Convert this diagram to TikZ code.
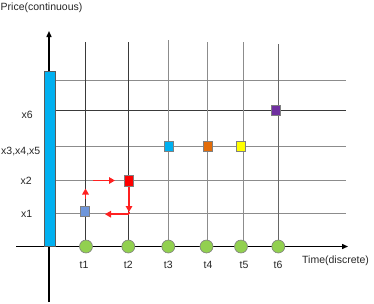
\documentclass[tikz,border=0pt]{standalone}
\usepackage{fontspec}
\setmainfont{Liberation Sans}
\usetikzlibrary{arrows.meta}
\definecolor{gridgray}{HTML}{8C8C8C}
\definecolor{griddark}{HTML}{3A3A3A}
\definecolor{barblue}{HTML}{00B0F0}
\definecolor{dotgreen}{HTML}{92D050}
\definecolor{sqblue}{HTML}{6F96DA}
\definecolor{sqred}{HTML}{FF0000}
\definecolor{sqorange}{HTML}{E36C09}
\definecolor{sqyellow}{HTML}{FFFF00}
\definecolor{sqpurple}{HTML}{7030A0}
\definecolor{arrred}{HTML}{FF2020}
\tikzset{
  lbl/.style={inner sep=0pt, font=\fontsize{10.5}{12}\selectfont, text=black!85},
  gridline/.style={draw=gridgray, line width=0.9pt},
  darkline/.style={draw=griddark, line width=0.9pt},
  axis/.style={draw=black, line width=1.4pt, -{Triangle[length=6pt,width=5pt]}},
  dot/.style={circle, fill=dotgreen, draw=gray, line width=0.6pt, minimum size=13pt, inner sep=0pt},
  sq/.style={rectangle, draw=gray, line width=0.6pt, minimum width=9pt, minimum height=10.5pt, inner sep=0pt},
  redarr/.style={draw=arrred, line width=1.8pt, -{Triangle[length=6pt,width=6.5pt]}}
}
\begin{document}
\begin{tikzpicture}[x=1pt,y=-1pt]
\useasboundingbox (0,0) rectangle (374,303);
% horizontal grid lines
\coordinate (h1l) at (49,80);  \coordinate (h1r) at (346,80);
\coordinate (h2l) at (49,110); \coordinate (h2r) at (346,110);
\coordinate (h3l) at (49,146); \coordinate (h3r) at (346,146);
\coordinate (h4l) at (49,180.5); \coordinate (h4r) at (346,180.5);
\coordinate (h5l) at (49,213.5); \coordinate (h5r) at (346,213.5);
\draw[gridline] (h1l) -- (h1r);
\draw[darkline] (h2l) -- (h2r);
\draw[gridline] (h3l) -- (h3r);
\draw[gridline] (h4l) -- (h4r);
\draw[gridline] (h5l) -- (h5r);
% vertical grid line tops and bottoms
\coordinate (v1) at (85,42);
\coordinate (v2) at (128.5,42);
\coordinate (v3) at (168.3,40);
\coordinate (v4) at (207.5,42);
\coordinate (v5) at (243,42);
\coordinate (v6) at (278.3,44);
\coordinate (b1) at (85,246.5);
\coordinate (b2) at (128.5,246.5);
\coordinate (b3) at (168.3,246.5);
\coordinate (b4) at (207.5,246.5);
\coordinate (b5) at (243,246.5);
\coordinate (b6) at (278.3,246.5);
\draw[darkline] (v1) -- (b1);
\draw[darkline] (v2) -- (b2);
\draw[gridline] (v3) -- (b3);
\draw[gridline] (v4) -- (b4);
\draw[gridline] (v5) -- (b5);
\draw[darkline,draw=gray!80!black] (v6) -- (b6);
% axes
\coordinate (xs) at (16,246.5);
\coordinate (xe) at (348,246.5);
\coordinate (ys) at (49,302);
\coordinate (ye) at (49,31);
\draw[axis] (ys) -- (ye);
\draw[axis] (xs) -- (xe);
% blue bar
\node[rectangle, fill=barblue, draw=gray!70!black, line width=0.6pt, minimum width=11pt, minimum height=175pt, inner sep=0pt] (bar) at (49.5,158.5) {};
% circles on time axis
\node[dot] (c1) at (86,246.5) {};
\node[dot] (c2) at (128.3,246.5) {};
\node[dot] (c3) at (168.3,246.5) {};
\node[dot] (c4) at (206.5,246.5) {};
\node[dot] (c5) at (241,246.5) {};
\node[dot] (c6) at (278.3,246.5) {};
% squares
\node[sq, fill=sqblue]   (s1) at (84.5,211.5) {};
\node[sq, fill=sqred]    (s2) at (128.8,181) {};
\node[sq, fill=barblue]  (s3) at (168.3,146.5) {};
\node[sq, fill=sqorange] (s4) at (207.7,146.5) {};
\node[sq, fill=sqyellow] (s5) at (240.5,146.5) {};
\node[sq, fill=sqpurple] (s6) at (276,110.5) {};
% red arrows
\coordinate (a1s) at (85.5,199);  \coordinate (a1e) at (85.5,188.5);
\coordinate (a2s) at (93,180.5);  \coordinate (a2e) at (115,180.5);
\coordinate (a3e) at (129,212);
\coordinate (a4s) at (129,214.2); \coordinate (a4e) at (105,214.2);
\draw[redarr] (a1s) -- (a1e);
\draw[redarr] (a2s) -- (a2e);
\draw[redarr] (s2.south -| a3e) -- (a3e);
\draw[redarr,-] (a3e) -- (a4s);
\draw[redarr] (a4s) -- (a4e);
% labels
\node[lbl, anchor=west] (ptitle) at (0.5,8) {Price(continuous)};
\node[lbl, anchor=west] (ttitle) at (302,261) {Time(discrete)};
\node[lbl, anchor=east] (lx6) at (33,115) {x6};
\node[lbl, anchor=east] (lx345) at (40.5,151.5) {x3,x4,x5};
\node[lbl, anchor=east] (lx2) at (32,180.5) {x2};
\node[lbl, anchor=east] (lx1) at (32.5,213.5) {x1};
\node[lbl] (lt1) at (84,265) {t1};
\node[lbl] (lt2) at (128.3,265) {t2};
\node[lbl] (lt3) at (168.3,265) {t3};
\node[lbl] (lt4) at (208,265) {t4};
\node[lbl] (lt5) at (244,265) {t5};
\node[lbl] (lt6) at (278,265) {t6};
\end{tikzpicture}
\end{document}
